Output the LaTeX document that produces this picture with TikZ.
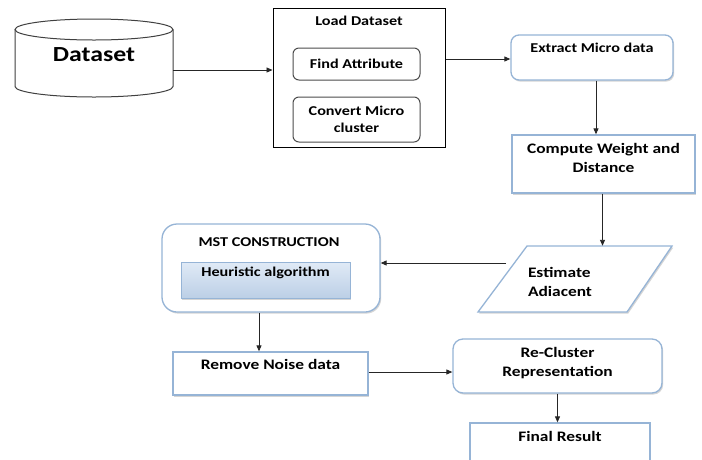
\documentclass[tikz,border=0pt]{standalone}
\usepackage{fontspec}
\setmainfont{Carlito}[FakeStretch=1.2]
\usetikzlibrary{arrows.meta,shadows}

\definecolor{boxblue}{RGB}{150,180,214}
\definecolor{shadowgray}{RGB}{185,185,185}
\definecolor{heurtop}{RGB}{224,234,246}
\definecolor{heurbot}{RGB}{188,207,230}

\tikzset{
  arr/.style={-{Triangle[length=6pt,width=5pt]}, line width=0.9pt, draw=black!85},
  softshadow/.style={drop shadow={shadow xshift=1.2pt, shadow yshift=-1.6pt, fill=shadowgray, opacity=0.6}},
  bluebox/.style={draw=boxblue, line width=1.3pt, fill=white, inner sep=0pt, softshadow},
  graybox/.style={draw=black!70, line width=1pt, rounded corners=6pt, inner sep=0pt,
    font=\bfseries\fontsize{13.5}{17}\selectfont, align=center},
  lbl/.style={font=\bfseries\fontsize{14.5}{19}\selectfont, align=center, inner sep=0pt},
  lblsmall/.style={font=\bfseries\fontsize{13.5}{17}\selectfont, align=center, inner sep=0pt},
  holder/.style={inner sep=0pt}
}

\begin{document}
\begin{tikzpicture}[x=1pt,y=1pt]
\useasboundingbox (0,0) rectangle (702,-459);
\clip (0,0) rectangle (702,-459);
\fill[white] (0,0) rectangle (702,-459);

% data store (cylinder)
\node[holder, minimum width=158pt, minimum height=79pt] (ds) at (94,-58) {};
\draw[draw=black!75, line width=1pt, fill=white]
  (15,-29.5) -- (15,-86.5) arc[start angle=180, end angle=360, x radius=79, y radius=10.5] -- (173,-29.5);
\draw[draw=black!75, line width=1pt] (94,-29.5) ellipse[x radius=79, y radius=10.5];
\node[font=\bfseries\fontsize{21.5}{26}\selectfont, inner sep=0pt] at (94,-55) {Dataset};

% loading stage
\node[holder, draw=black, line width=1pt, minimum width=172pt, minimum height=139pt] (load) at (359,-77.5) {};
\node[lblsmall] at (359,-21) {Load Dataset};
\node[graybox, minimum width=127pt, minimum height=32pt] (find) at (356.5,-64) {Find Attribute};
\node[graybox, minimum width=127pt, minimum height=45pt] (conv) at (356.5,-119.5) {Convert Micro\\cluster};

% extraction and weighting
\node[bluebox, rounded corners=8pt, minimum width=162pt, minimum height=45pt] (extract) at (592,-57.5) {};
\node[lblsmall] at (592,-48) {Extract Micro data};
\node[bluebox, minimum width=183pt, minimum height=58pt] (comp) at (603.5,-164) {};
\node[lbl] at (603.5,-157.5) {Compute Weight and\\Distance};

% adjacency estimate (parallelogram)
\node[holder, minimum width=194pt, minimum height=66pt] (para) at (575,-279) {};
\path[draw=boxblue, line width=1.3pt, fill=white, softshadow]
  (527,-246) -- (672,-246) -- (627,-312) -- (478,-312) -- cycle;
\node[lbl, align=left] (est) at (560,-281.5) {Estimate\\Adiacent};
\coordinate (pl) at (506,-263);

% MST construction
\node[bluebox, rounded corners=15pt, minimum width=218pt, minimum height=88pt] (mst) at (271,-268) {};
\node[lblsmall] at (269,-242) {MST CONSTRUCTION};
\node[draw=boxblue, line width=1pt, top color=heurtop, bottom color=heurbot, inner sep=0pt,
  minimum width=169pt, minimum height=36pt, softshadow] (heur) at (265.5,-280) {};
\node[lblsmall] at (265.5,-273) {Heuristic algorithm};

% noise removal, re-clustering, result
\node[bluebox, minimum width=195pt, minimum height=43pt] (rem) at (270.5,-373.5) {};
\node[lbl] at (270.5,-364) {Remove Noise data};
\node[bluebox, rounded corners=10pt, minimum width=209pt, minimum height=54pt] (recl) at (557.5,-366) {};
\node[lbl] at (557.5,-363.5) {Re-Cluster\\Representation};
\node[bluebox, minimum width=180pt, minimum height=60pt] (fin) at (560,-453) {};
\node[lbl] at (560,-436) {Final Result};

% connectors
\draw[arr] ([yshift=-12pt]ds.east) -- ([yshift=-12pt]ds.east -| load.west);
\draw[arr] ([yshift=18.5pt]load.east) -- ([yshift=18.5pt]load.east -| extract.west);
\draw[arr] ([xshift=4pt]extract.south) -- ([xshift=4pt]extract.south |- comp.north);
\draw[arr] ([xshift=-1pt]comp.south) -- ([xshift=-1pt]comp.south |- para.north);
\draw[arr] (pl) -- (pl -| mst.east);
\draw[arr] ([xshift=-12pt]mst.south) -- ([xshift=-12pt]mst.south |- rem.north);
\draw[arr] ([yshift=1.5pt]rem.east) -- ([yshift=1.5pt]rem.east -| recl.west);
\draw[arr] (recl.south) -- (recl.south |- fin.north);
\end{tikzpicture}
\end{document}
